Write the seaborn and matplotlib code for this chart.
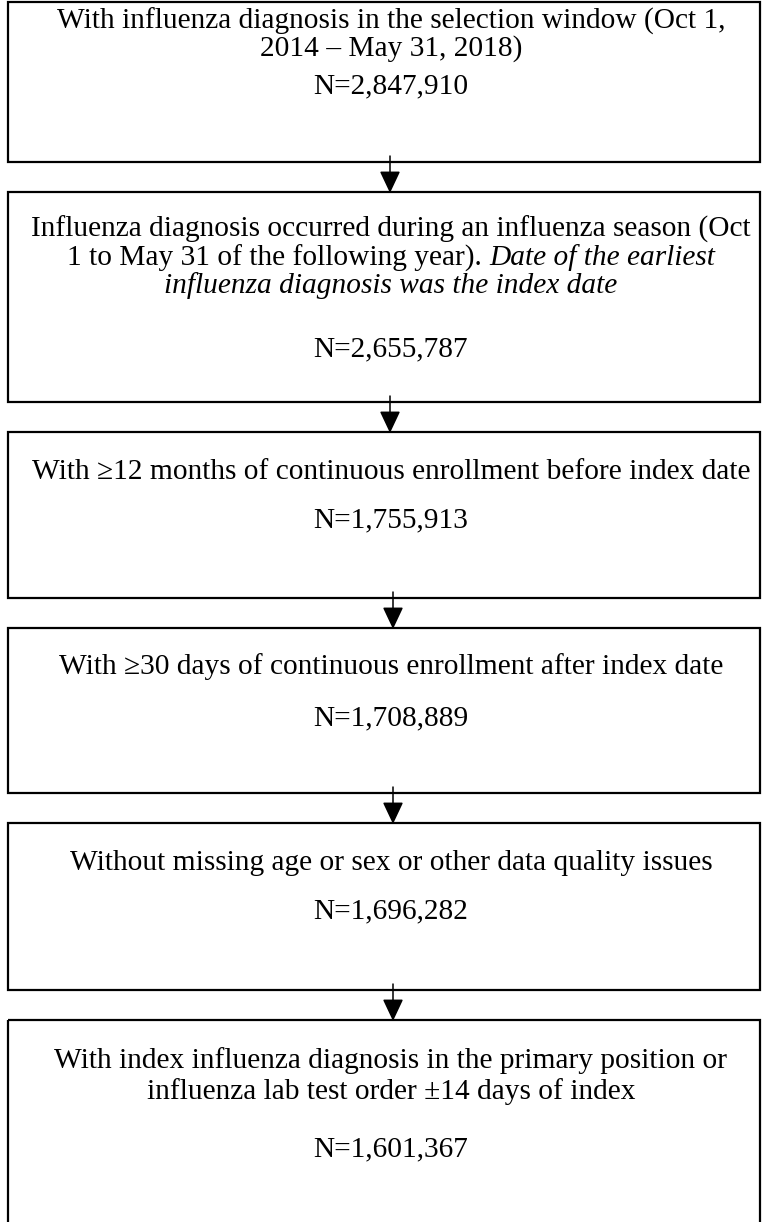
import matplotlib
matplotlib.use("Agg")
import matplotlib.pyplot as plt
import seaborn as sns
from matplotlib.patches import Rectangle, FancyArrowPatch

# ---- data ----
step_lines = [
    [[("With influenza diagnosis in the selection window (Oct 1,", "normal")],
     [("2014 – May 31, 2018)", "normal")]],
    [[("Influenza diagnosis occurred during an influenza season (Oct", "normal")],
     [("1 to May 31 of the following year). ", "normal"), ("Date of the earliest", "italic")],
     [("influenza diagnosis was the index date", "italic")]],
    [[("With ≥12 months of continuous enrollment before index date", "normal")]],
    [[("With ≥30 days of continuous enrollment after index date", "normal")]],
    [[("Without missing age or sex or other data quality issues", "normal")]],
    [[("With index influenza diagnosis in the primary position or", "normal")],
     [("influenza lab test order ±14 days of index", "normal")]],
]
counts = ["N=2,847,910", "N=2,655,787", "N=1,755,913", "N=1,708,889",
          "N=1,696,282", "N=1,601,367"]

# ---- layout (pixels) ----
W, H = 762, 1222
box_top = [2, 192, 432, 628, 823, 1020]
box_bot = [162, 402, 598, 793, 990, 1240]
line_y = [[21, 49], [229, 258, 286], [472], [667], [863], [1061, 1092]]
count_y = [86, 349, 520, 718, 911, 1149]
box_left, box_right = 8, 760
cx = 391
arrow_x = [390, 390, 393, 393, 393]

sns.set_theme(style="white")
plt.rcParams["font.family"] = ["Liberation Serif", "DejaVu Serif"]
FS = 21.2

fig = plt.figure(figsize=(W / 100, H / 100), dpi=100)
ax = fig.add_axes([0, 0, 1, 1])
ax.set_xlim(0, W)
ax.set_ylim(H, 0)
ax.axis("off")

for i in range(len(counts)):
    ax.add_patch(Rectangle((box_left, box_top[i]), box_right - box_left,
                           box_bot[i] - box_top[i], fill=False,
                           edgecolor="black", linewidth=1.6, zorder=2))

fig.canvas.draw()
renderer = fig.canvas.get_renderer()

def draw_line(segments, y):
    texts = []
    for s, style in segments:
        t = ax.text(0, y, s, fontsize=FS, fontstyle=style, ha="left",
                    va="center", color="black")
        texts.append(t)
    widths = [t.get_window_extent(renderer).width for t in texts]
    total = sum(widths)
    x = cx - total / 2
    for t, w in zip(texts, widths):
        t.set_x(x)
        x += w

for i, lines in enumerate(step_lines):
    for segs, y in zip(lines, line_y[i]):
        draw_line(segs, y)
    ax.text(cx, count_y[i], counts[i], fontsize=FS, ha="center", va="center",
            color="black")

for i in range(len(counts) - 1):
    x = arrow_x[i]
    ax.add_patch(FancyArrowPatch((x, box_bot[i] - 6), (x, box_top[i + 1] + 1),
                                 arrowstyle="-|>,head_length=0.85,head_width=0.4",
                                 mutation_scale=16, linewidth=1.1,
                                 color="black", shrinkA=0, shrinkB=0, zorder=3))

fig.savefig("out.png", dpi=100, facecolor="white")
